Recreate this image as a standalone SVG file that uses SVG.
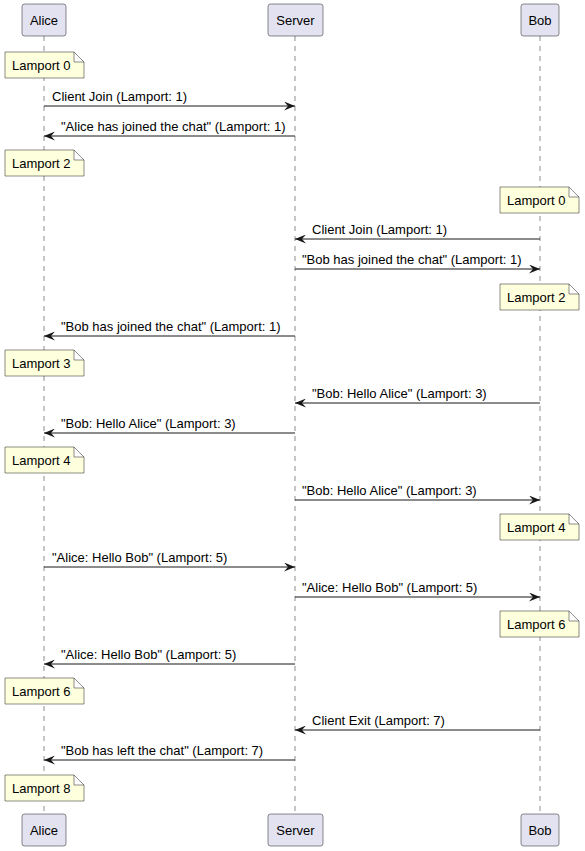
<svg xmlns="http://www.w3.org/2000/svg" width="585" height="851" viewBox="0 0 585 851">
<style>
text{font-family:"Liberation Sans",Arial,sans-serif;font-size:13px;fill:#000}
.p{fill:#E2E2F0;stroke:#181818;stroke-width:0.5}
.ll{stroke:#181818;stroke-width:0.5;stroke-dasharray:5,5}
.n{fill:#FEFFDD;stroke:#181818;stroke-width:0.5}
.a{stroke:#181818;stroke-width:1;fill:none;marker-end:url(#ah)}
.c{text-anchor:middle}
</style>
<defs>
<marker id="ah" viewBox="0 0 11 9" refX="11" refY="4.5" markerWidth="11" markerHeight="9" orient="auto" markerUnits="userSpaceOnUse">
<path d="M0,0 L11,4.5 L0,9 L4,4.5 Z" fill="#181818"/>
</marker>
<path id="note" d="M0,0 H69 L79,10 V26 H0 Z M69,0 V10 H79"/>
</defs>
<g id="lifelines">
<line class="ll" x1="44" y1="36" x2="44" y2="814"/>
<line class="ll" x1="295" y1="36" x2="295" y2="814"/>
<line class="ll" x1="540" y1="36" x2="540" y2="814"/>
</g>
<g id="alice">
<rect class="p" x="22" y="4" width="44" height="32" rx="2.5"/>
<text class="c" x="44" y="25">Alice</text>
<rect class="p" x="22" y="814" width="44" height="32" rx="2.5"/>
<text class="c" x="44" y="835">Alice</text>
</g>
<g id="server">
<rect class="p" x="268" y="4" width="55" height="32" rx="2.5"/>
<text class="c" x="295.5" y="25">Server</text>
<rect class="p" x="268" y="814" width="55" height="32" rx="2.5"/>
<text class="c" x="295.5" y="835">Server</text>
</g>
<g id="bob">
<rect class="p" x="521" y="4" width="38" height="32" rx="2.5"/>
<text class="c" x="540" y="25">Bob</text>
<rect class="p" x="521" y="814" width="38" height="32" rx="2.5"/>
<text class="c" x="540" y="835">Bob</text>
</g>
<g id="notes">
<g id="na0" transform="translate(5,52)"><use href="#note" class="n"/><text x="7" y="17.5">Lamport 0</text></g>
<g id="na2" transform="translate(5,150)"><use href="#note" class="n"/><text x="7" y="17.5">Lamport 2</text></g>
<g id="nb0" transform="translate(500,187)"><use href="#note" class="n"/><text x="7" y="17.5">Lamport 0</text></g>
<g id="nb2" transform="translate(500,284)"><use href="#note" class="n"/><text x="7" y="17.5">Lamport 2</text></g>
<g id="na3" transform="translate(5,350)"><use href="#note" class="n"/><text x="7" y="17.5">Lamport 3</text></g>
<g id="na4" transform="translate(5,447)"><use href="#note" class="n"/><text x="7" y="17.5">Lamport 4</text></g>
<g id="nb4" transform="translate(500,514)"><use href="#note" class="n"/><text x="7" y="17.5">Lamport 4</text></g>
<g id="nb6" transform="translate(500,611)"><use href="#note" class="n"/><text x="7" y="17.5">Lamport 6</text></g>
<g id="na6" transform="translate(5,678)"><use href="#note" class="n"/><text x="7" y="17.5">Lamport 6</text></g>
<g id="na8" transform="translate(5,775)"><use href="#note" class="n"/><text x="7" y="17.5">Lamport 8</text></g>
</g>
<g id="connectors">
<line class="a" x1="44" y1="106" x2="295" y2="106"/><text x="52" y="101">Client Join (Lamport: 1)</text>
<line class="a" x1="295" y1="136" x2="44" y2="136"/><text x="61" y="131">"Alice has joined the chat" (Lamport: 1)</text>
<line class="a" x1="540" y1="239" x2="295" y2="239"/><text x="312" y="234">Client Join (Lamport: 1)</text>
<line class="a" x1="295" y1="269" x2="540" y2="269"/><text x="302" y="264">"Bob has joined the chat" (Lamport: 1)</text>
<line class="a" x1="295" y1="336" x2="44" y2="336"/><text x="61" y="331">"Bob has joined the chat" (Lamport: 1)</text>
<line class="a" x1="540" y1="403" x2="295" y2="403"/><text x="312" y="398">"Bob: Hello Alice" (Lamport: 3)</text>
<line class="a" x1="295" y1="433" x2="44" y2="433"/><text x="61" y="428">"Bob: Hello Alice" (Lamport: 3)</text>
<line class="a" x1="295" y1="500" x2="540" y2="500"/><text x="302" y="495">"Bob: Hello Alice" (Lamport: 3)</text>
<line class="a" x1="44" y1="567" x2="295" y2="567"/><text x="52" y="562">"Alice: Hello Bob" (Lamport: 5)</text>
<line class="a" x1="295" y1="597" x2="540" y2="597"/><text x="302" y="592">"Alice: Hello Bob" (Lamport: 5)</text>
<line class="a" x1="295" y1="664" x2="44" y2="664"/><text x="61" y="659">"Alice: Hello Bob" (Lamport: 5)</text>
<line class="a" x1="540" y1="730" x2="295" y2="730"/><text x="312" y="725">Client Exit (Lamport: 7)</text>
<line class="a" x1="295" y1="760" x2="44" y2="760"/><text x="61" y="755">"Bob has left the chat" (Lamport: 7)</text>
</g>
</svg>
